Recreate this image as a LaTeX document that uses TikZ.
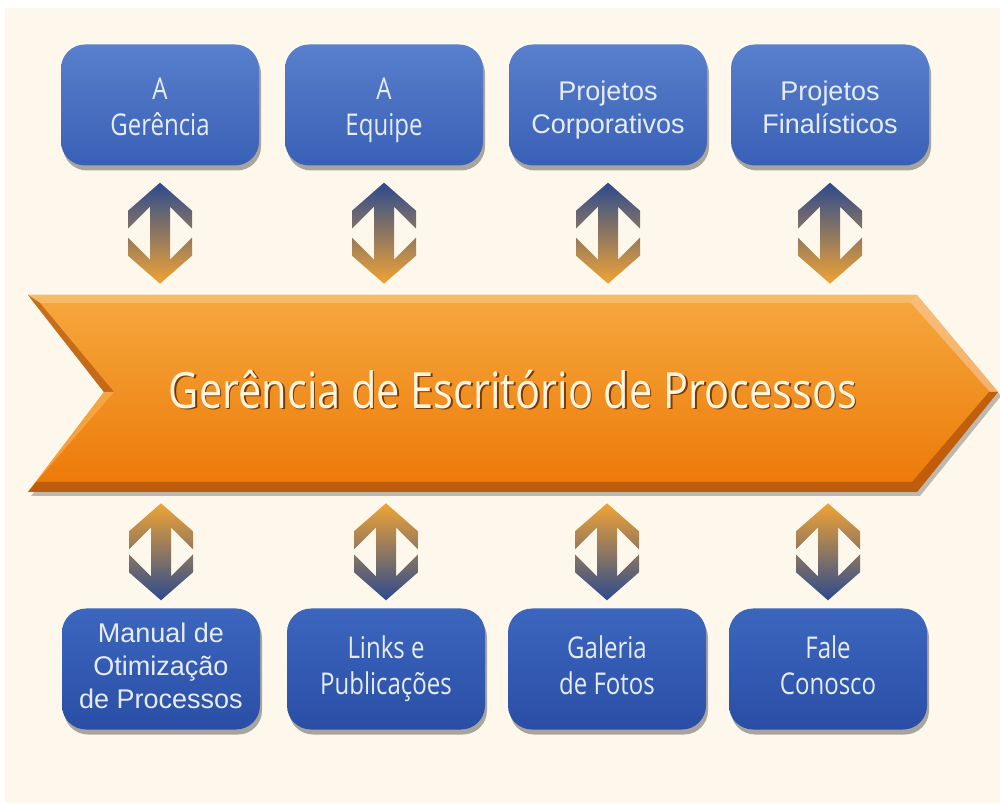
\documentclass[tikz,border=0pt]{standalone}
\usepackage{fontspec}
\usepackage{graphicx}
\setmainfont{Open Sans}
\newfontfamily\arialf{Liberation Sans}
\newfontfamily\segf{Open Sans}
\usetikzlibrary{shadows,calc}
\definecolor{cream}{HTML}{FEF8EC}
\definecolor{boxtop}{HTML}{5880CC}
\definecolor{boxbot}{HTML}{3960B6}
\definecolor{boxtopb}{HTML}{3C66BE}
\definecolor{boxbotb}{HTML}{2A4EA6}
\definecolor{txt}{HTML}{E6ECF6}
\definecolor{navy}{HTML}{2C4A8E}
\definecolor{amber}{HTML}{F0A434}
\definecolor{orA}{HTML}{F6A83E}
\definecolor{orB}{HTML}{F39116}
\definecolor{orC}{HTML}{EC7806}
\definecolor{hiA}{HTML}{F8C170}
\definecolor{hiB}{HTML}{FAD3B8}
\definecolor{dkA}{HTML}{B85C12}
\definecolor{dkB}{HTML}{B8580C}
\definecolor{hiC}{HTML}{F7B050}
\definecolor{tshadow}{HTML}{7A3A06}
\definecolor{ttext}{HTML}{FFF4DE}
\newcommand\segtext[1]{\scalebox{0.8}[1]{\segf\fontsize{30}{36}\selectfont\begin{tabular}{@{}c@{}}#1\end{tabular}}}
\newcommand\artext[1]{{\arialf\fontsize{27}{33}\selectfont\begin{tabular}{@{}c@{}}#1\end{tabular}}}
\newcommand\lowered[1]{\raisebox{-5pt}[\height][\depth]{#1}}
\newcommand\maintext{\scalebox{0.83}[1]{\segf\fontsize{50}{60}\selectfont Gerência de Escritório de Processos}}
\newcommand\dblarr[3]{%
  \shade[top color=#1, bottom color=#2]
    (0,0) -- (-32,-28) -- (-32,-46) -- (-10,-24) -- (-10,{-#3+24})
    -- (-32,{-#3+46}) -- (-32,{-#3+28}) -- (0,{-#3}) -- (32,{-#3+28})
    -- (32,{-#3+46}) -- (10,{-#3+24}) -- (10,-24) -- (32,-46) -- (32,-28) -- cycle;}
\tikzset{
  box/.style={rounded corners=24pt, minimum width=198pt, minimum height=121pt,
    inner sep=0pt, draw=none, text=txt, align=center,
    drop shadow={shadow xshift=2pt, shadow yshift=-5pt, opacity=0.45, fill=black!75}},
  boxup/.style={box, top color=boxtop, bottom color=boxbot},
  boxdn/.style={box, top color=boxtopb, bottom color=boxbotb},
}
\begin{document}
\begin{tikzpicture}[x=1pt,y=1pt]
\useasboundingbox (0,0) rectangle (1000,803);
\fill[white] (0,0) rectangle (1000,803);
\fill[cream] (5,0) rectangle (1000,795);

% main chevron
\fill[black, opacity=0.25] (31,504) -- (920,504) -- (1001,407) -- (920,307) -- (31,307) -- (107,407) -- cycle;
\shade[top color=orA, middle color=orB, bottom color=orC]
  (28,508) -- (917,508) -- (998,411) -- (917,311) -- (28,311) -- (104,411) -- cycle;
\fill[hiA, opacity=0.8] (28,508) -- (917,508) -- (911,500) -- (40,500) -- cycle;
\fill[hiB, opacity=0.5] (917,508) -- (998,411) -- (990,411) -- (911,500) -- cycle;
\fill[dkA, opacity=0.75] (28,508) -- (104,411) -- (114,411) -- (40,500) -- cycle;
\fill[dkB, opacity=0.85] (28,311) -- (917,311) -- (998,411) -- (989,411) -- (912,321) -- (36,321) -- cycle;
\fill[hiC, opacity=0.7] (28,311) -- (104,411) -- (114,411) -- (36,321) -- cycle;
\node (main) at (513,413) {\rlap{\raisebox{-1.6pt}{\hspace{1.6pt}\textcolor{tshadow}{\maintext}}}\textcolor{ttext}{\maintext}};

% top boxes
\node[boxup] (t1) at (160,698) {\lowered{\segtext{A\\Gerência}}};
\node[boxup] (t2) at (384,698) {\lowered{\segtext{A\\Equipe}}};
\node[boxup] (t3) at (608,698) {\lowered{\artext{Projetos\\Corporativos}}};
\node[boxup] (t4) at (830,698) {\lowered{\artext{Projetos\\Finalísticos}}};

% bottom boxes
\node[boxdn] (b1) at (161,134) {\artext{Manual de\\Otimização\\de Processos}};
\node[boxdn] (b2) at (386,134) {\segtext{Links e\\Publicações}};
\node[boxdn] (b3) at (607,134) {\segtext{Galeria\\de Fotos}};
\node[boxdn] (b4) at (828,134) {\segtext{Fale\\Conosco}};

% double arrows
\foreach \n in {t1,t2,t3,t4}{
  \begin{scope}[shift={($(\n.south)+(0,-17)$)}]\dblarr{navy}{amber}{101}\end{scope}
}
\foreach \n in {b1,b2,b3,b4}{
  \begin{scope}[shift={($(\n.north)+(0,105)$)}]\dblarr{amber}{navy}{97}\end{scope}
}
\end{tikzpicture}
\end{document}
